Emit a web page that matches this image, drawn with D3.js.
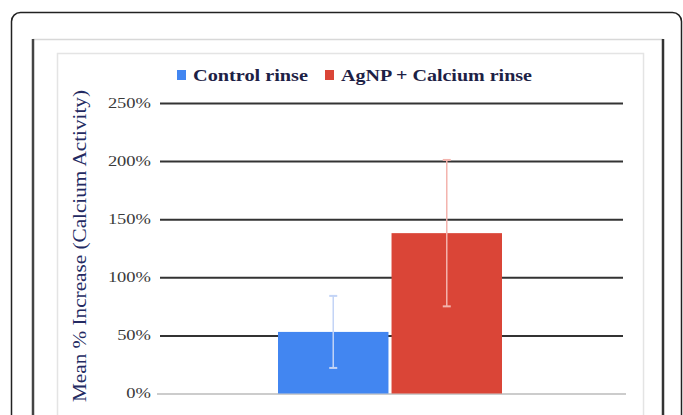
<!DOCTYPE html>
<html>
<head>
<meta charset="utf-8">
<style>
  body { margin: 0; background: #fff; }
  svg { display: block; }
</style>
</head>
<body>
<svg width="683" height="415" font-family="'Liberation Serif', 'Times New Roman', serif"></svg>
<script src="https://d3js.org/d3.v7.min.js"></script>
<script>

var series = ["Control rinse", "AgNP + Calcium rinse"];
var means = [0.53, 1.38];
var errors = [0.31, 0.63];
var colors = ["#4286f1", "#da4537"];
var yTicks = [0, 0.5, 1, 1.5, 2, 2.5];
var yTitle = "Mean % Increase (Calcium Activity)";

var svg = d3.select("svg");

// picture frames around the chart
svg.append("rect")
    .attr("x", 11.5).attr("y", 12.5)
    .attr("width", 670).attr("height", 440)
    .attr("rx", 9)
    .attr("fill", "none").attr("stroke", "#222").attr("stroke-width", 1.5);

svg.append("line")
    .attr("x1", 33).attr("x2", 663).attr("y1", 39.5).attr("y2", 39.5)
    .attr("stroke", "#d8d8d8").attr("stroke-width", 1.5);
svg.append("line")
    .attr("x1", 33).attr("x2", 33).attr("y1", 39).attr("y2", 415)
    .attr("stroke", "#444").attr("stroke-width", 2.5);
svg.append("line")
    .attr("x1", 663).attr("x2", 663).attr("y1", 39).attr("y2", 415)
    .attr("stroke", "#333").attr("stroke-width", 2.5);
svg.append("rect")
    .attr("x", 57.5).attr("y", 53.5)
    .attr("width", 586).attr("height", 400)
    .attr("fill", "none").attr("stroke", "#e4e4e4").attr("stroke-width", 1.5);

var y = d3.scaleLinear().domain([0, 2.5]).range([393.5, 103]);
var x = d3.scaleBand().domain(series).range([278, 502]).paddingInner(0.027);

var fmt = d3.format(".0%");

// axis + gridlines
var axis = svg.append("g")
    .attr("transform", "translate(160,0)")
    .call(d3.axisLeft(y).tickValues(yTicks).tickFormat(fmt)
      .tickSizeInner(-463).tickSizeOuter(0).tickPadding(9));

axis.select(".domain").remove();
axis.selectAll(".tick line")
    .attr("stroke", "#333").attr("stroke-width", 2);
axis.selectAll(".tick")
    .filter(function(d) { return d === 0; })
    .select("line")
    .attr("x1", -3).attr("x2", 466)
    .attr("stroke", "#bbb").attr("stroke-width", 1.5);
axis.selectAll(".tick text")
    .attr("font-size", 14)
    .attr("fill", "#3a3a3a")
    .attr("font-family", "'Liberation Serif', serif")
    .each(function() {
      var w = this.getComputedTextLength();
      d3.select(this).attr("textLength", w * 1.32).attr("lengthAdjust", "spacingAndGlyphs");
    });

// bars
svg.append("g").selectAll("rect")
  .data(series)
  .enter().append("rect")
    .attr("x", function(d) { return x(d); })
    .attr("width", x.bandwidth())
    .attr("y", function(d, i) { return y(means[i]); })
    .attr("height", function(d, i) { return y(0) - y(means[i]); })
    .attr("fill", function(d, i) { return colors[i]; });

// error bars
var errColors = ["#c3d4f6", "#f3b3ad"];
var eb = svg.append("g").selectAll("g")
  .data(series)
  .enter().append("g")
    .attr("stroke", function(d, i) { return errColors[i]; })
    .attr("stroke-width", 1.5);

eb.append("line")
    .attr("x1", function(d) { return x(d) + x.bandwidth() / 2; })
    .attr("x2", function(d) { return x(d) + x.bandwidth() / 2; })
    .attr("y1", function(d, i) { return y(means[i] + errors[i]); })
    .attr("y2", function(d, i) { return y(means[i] - errors[i]); });
eb.selectAll(".cap")
  .data(function(d, i) { return [{s: d, v: means[i] + errors[i]}, {s: d, v: means[i] - errors[i]}]; })
  .enter().append("line")
    .attr("class", "cap")
    .attr("x1", function(d) { return x(d.s) + x.bandwidth() / 2 - 4; })
    .attr("x2", function(d) { return x(d.s) + x.bandwidth() / 2 + 4; })
    .attr("y1", function(d) { return y(d.v); })
    .attr("y2", function(d) { return y(d.v); })
    .attr("stroke-width", 2);

// legend
var legendX = [177, 325];
var legendW = [115, 191];
var legend = svg.append("g").selectAll("g")
  .data(series)
  .enter().append("g")
    .attr("transform", function(d, i) { return "translate(" + legendX[i] + ",70)"; });

legend.append("rect")
    .attr("width", 9).attr("height", 10)
    .attr("fill", function(d, i) { return colors[i]; });
legend.append("text")
    .attr("x", 16).attr("y", 11)
    .attr("font-size", 16)
    .attr("font-weight", "bold")
    .attr("fill", "#1d2145")
    .attr("textLength", function(d, i) { return legendW[i]; })
    .attr("lengthAdjust", "spacingAndGlyphs")
    .text(function(d) { return d; });

// y title
svg.append("text")
    .attr("transform", "translate(80,246) rotate(-90)")
    .attr("text-anchor", "middle")
    .attr("dy", "0.35em")
    .attr("font-size", 18)
    .attr("fill", "#232a62")
    .attr("textLength", 312)
    .attr("lengthAdjust", "spacingAndGlyphs")
    .text(yTitle);

</script>
</body>
</html>
